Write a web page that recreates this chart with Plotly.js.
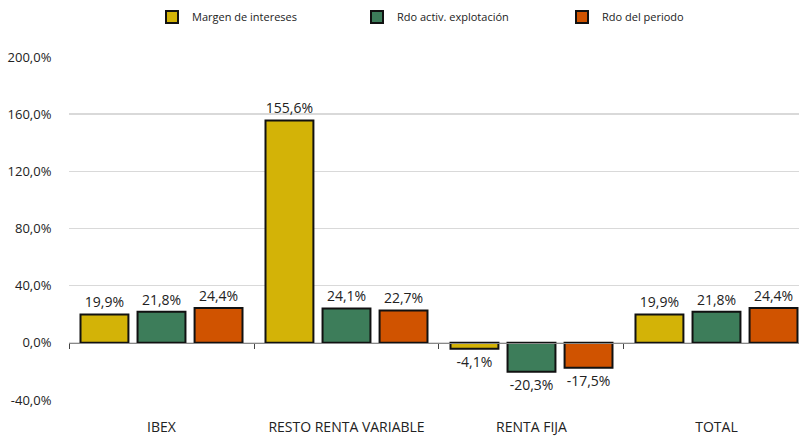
<!DOCTYPE html>
<html>
<head>
<meta charset="utf-8">
<script src="https://cdn.plot.ly/plotly-3.0.1.min.js"></script>
<style>html,body{margin:0;padding:0;background:#fff;}#chart{width:799px;height:437px;}</style>
</head>
<body>
<div id="chart"></div>
<script>
var categories = ["IBEX", "RESTO RENTA VARIABLE", "RENTA FIJA", "TOTAL"];
var seriesNames = ["Margen de intereses", "Rdo activ. explotación", "Rdo del periodo"];
var margenIntereses = [19.9, 155.6, -4.1, 19.9];
var rdoActivExplotacion = [21.8, 24.1, -20.3, 21.8];
var rdoPeriodo = [24.4, 22.7, -17.5, 24.4];
var yTickVals = [-40, 0, 40, 80, 120, 160, 200];
var yTickText = ["-40,0%", "0,0%", "40,0%", "80,0%", "120,0%", "160,0%", "200,0%"];
var colors = ["#D3B307", "#3D7D5A", "#D05300"];

var font = "'Open Sans', 'Noto Sans', sans-serif";
var allSeries = [margenIntereses, rdoActivExplotacion, rdoPeriodo];
var traces = allSeries.map(function (vals, i) {
  return {
    type: "bar",
    name: seriesNames[i],
    x: categories,
    y: vals,
    marker: { color: colors[i], line: { color: "#111", width: 2 } },
    text: vals.map(function (v) { return v.toFixed(1).replace(".", ",") + "%"; }),
    textposition: "outside",
    textfont: { family: font, size: 14, color: "#222" },
    cliponaxis: false,
    hoverinfo: "skip"
  };
});
// helper trace for the zero-line axis with boundary ticks
traces.push({
  type: "scatter", mode: "lines", x: categories, y: categories.map(function () { return null; }),
  xaxis: "x2", yaxis: "y", showlegend: false, hoverinfo: "skip"
});

var xr = [-0.5, 3.446];
var layout = {
  width: 799, height: 437,
  margin: { l: 69, r: 0, t: 57, b: 37 },
  paper_bgcolor: "#fff", plot_bgcolor: "#fff",
  font: { family: font, size: 13, color: "#222" },
  barmode: "group", bargap: 0.075, bargroupgap: 0.16,
  showlegend: true,
  legend: {
    orientation: "h",
    xref: "container", x: 152 / 799, xanchor: "left",
    yref: "container", y: 1 - 17 / 437, yanchor: "middle",
    entrywidth: 160, entrywidthmode: "pixels",
    font: { family: font, size: 11, color: "#222" },
    itemwidth: 30, tracegroupgap: 0, bgcolor: "rgba(0,0,0,0)"
  },
  xaxis: {
    type: "category", categoryarray: categories, range: xr,
    showgrid: false, zeroline: false, showline: false,
    ticks: "outside", ticklen: 14, tickcolor: "rgba(0,0,0,0)",
    tickfont: { family: font, size: 14, color: "#222" }, fixedrange: true
  },
  xaxis2: {
    type: "category", categoryarray: categories, range: xr,
    overlaying: "x", anchor: "free", position: 40 / 240,
    showgrid: false, zeroline: false, showline: true, linecolor: "#888", linewidth: 1.5,
    ticks: "outside", tickson: "boundaries", ticklen: 5, tickcolor: "#444", tickwidth: 1,
    showticklabels: false, fixedrange: true
  },
  yaxis: {
    range: [-40, 200], tickvals: yTickVals, ticktext: yTickText,
    showgrid: true, gridcolor: "#D9D9D9", gridwidth: 1.5,
    zeroline: false, showline: false,
    ticks: "outside", ticklen: 14, tickcolor: "rgba(0,0,0,0)",
    tickfont: { family: font, size: 13, color: "#222" }, fixedrange: true
  }
};
Plotly.newPlot("chart", traces, layout, { displayModeBar: false, staticPlot: true });
</script>
</body>
</html>
